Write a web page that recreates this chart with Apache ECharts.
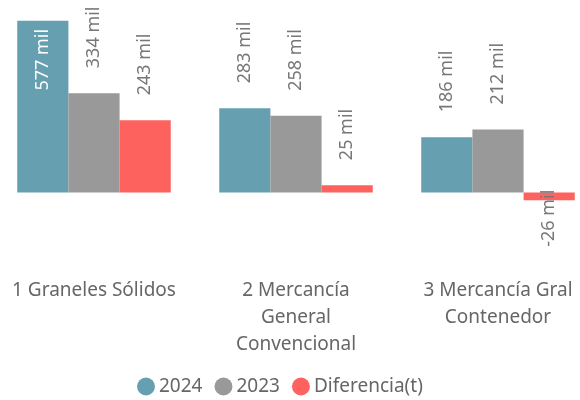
<!DOCTYPE html>
<html>
<head>
<meta charset="utf-8">
<script src="https://cdn.jsdelivr.net/npm/echarts@6/dist/echarts.min.js"></script>
<style>
  html, body { margin: 0; padding: 0; background: #fff; }
  #main { width: 580px; height: 400px; }
</style>
</head>
<body>
<div id="main"></div>
<script>
// categorías (con saltos de línea como en el original)
var categorias = ['1 Graneles Sólidos', '2 Mercancía\nGeneral\nConvencional', '3 Mercancía Gral\nContenedor'];
var serie2024 = [577, 283, 186];
var serie2023 = [334, 258, 212];
var diferencia = [243, 25, -26];
var nombres = ['2024', '2023', 'Diferencia(t)'];
var colores = ['#659fb0', '#999999', '#fd625e'];

var fuente = '"Noto Sans", sans-serif';

function etiqueta(v) {
    return v + ' mil';
}

// etiqueta fuera de la barra, vertical
var labelArriba = {
    show: true,
    position: 'top',
    distance: 25,
    rotate: 90,
    align: 'left',
    verticalAlign: 'middle',
    color: '#777',
    fontSize: 18,
    fontFamily: fuente,
    formatter: function (p) { return etiqueta(p.value); }
};

function datos(valores) {
    return valores.map(function (v, i) {
        var item = { value: v };
        if (v > 500) {
            // no cabe encima: dentro de la barra en blanco
            item.label = { position: 'insideTop', distance: 8, align: 'right', color: '#fff' };
        } else if (v < 0) {
            item.label = { position: 'top', distance: 3, align: 'right' };
        }
        return item;
    });
}

var myChart = echarts.init(document.getElementById('main'));
var option = {
    animation: false,
    color: colores,
    textStyle: { fontFamily: fuente },
    legend: {
        bottom: -1,
        left: 132,
        icon: 'circle',
        itemWidth: 18,
        itemHeight: 18,
        itemGap: 12,
        textStyle: { color: '#666', fontSize: 19, fontFamily: fuente, padding: [0, 0, 0, -1] },
        data: nombres
    },
    grid: { left: -7, right: -19, top: 14, height: 256, outerBoundsMode: 'none', containLabel: false },
    xAxis: {
        type: 'category',
        data: categorias,
        axisLine: { show: false, onZero: false },
        axisTick: { show: false },
        axisLabel: {
            interval: 0,
            hideOverlap: false,
            color: '#666',
            fontSize: 19,
            fontFamily: fuente,
            lineHeight: 27,
            margin: 7,
            verticalAlign: 'top'
        }
    },
    yAxis: {
        type: 'value',
        min: -260,
        max: 600,
        show: false,
        splitLine: { show: false }
    },
    series: [
        { name: nombres[0], type: 'bar', barGap: '0%', barCategoryGap: '24%', data: datos(serie2024), label: labelArriba },
        { name: nombres[1], type: 'bar', barGap: '0%', barCategoryGap: '24%', data: datos(serie2023), label: labelArriba },
        { name: nombres[2], type: 'bar', barGap: '0%', barCategoryGap: '24%', data: datos(diferencia), label: labelArriba }
    ]
};
myChart.setOption(option);
</script>
</body>
</html>
